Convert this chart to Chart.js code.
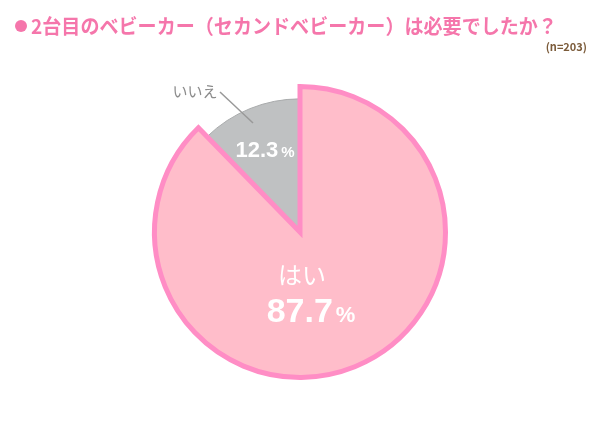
<!DOCTYPE html>
<html>
<head>
<meta charset="utf-8">
<script src="https://cdn.jsdelivr.net/npm/chart.js@4.4.1/dist/chart.umd.min.js"></script>
<style>
  html, body { margin: 0; padding: 0; background: #fff; }
  #wrap { width: 600px; height: 435px; position: relative; }
</style>
</head>
<body>
<div id="wrap"><canvas id="myPieChart" width="600" height="435"></canvas></div>
<script>
// data, drawn in order so the pink slice sits on top
let labels = ['いいえ', 'はい'];
let values = [12.3, 87.7];

let colors = ['#bfc1c2', '#ffbdca'];
let borderColors = ['#a9abac', '#ff8dc5'];
let borderWidths = [1, 5];

let title = '2台目のベビーカー（セカンドベビーカー）は必要でしたか？';
let note = '(n=203)';

let total = values.reduce((a, b) => a + b, 0);

// draws the title, the note and the slice labels
let textPlugin = {
    id: 'texts',
    beforeDatasetsDraw(chart) {
        // the "no" slice is drawn a bit smaller than the "yes" slice
        let meta = chart.getDatasetMeta(0);
        let big = meta.data[1].outerRadius;
        meta.data[0].outerRadius = big * 0.915;
    },
    afterDraw(chart) {
        let c = chart.ctx;
        let arc = chart.getDatasetMeta(0).data[1];
        let cx = arc.x, cy = arc.y;
        c.save();

        // bullet + title
        c.fillStyle = '#f576ab';
        c.beginPath();
        c.arc(21, 26, 6, 0, Math.PI * 2);
        c.fill();
        c.font = 'bold 20px "Noto Sans CJK JP"';
        c.textAlign = 'left';
        c.textBaseline = 'middle';
        let tw = c.measureText(title).width;
        let sx = Math.min(1, 526 / tw);
        c.save();
        c.translate(31, 26);
        c.scale(sx, 1);
        c.fillText(title, 0, 0);
        c.restore();

        c.fillStyle = '#7b5b3a';
        c.font = 'bold 11px "Noto Sans CJK JP"';
        c.textAlign = 'right';
        c.fillText(note, 587, 47);

        // no label with leader line
        c.strokeStyle = '#999999';
        c.lineWidth = 1.5;
        c.beginPath();
        c.moveTo(cx - 80, cy - 140);
        c.lineTo(cx - 47, cy - 109);
        c.stroke();
        c.fillStyle = '#8c8c8c';
        c.font = '15px "Noto Sans CJK JP"';
        c.textAlign = 'center';
        c.fillText(labels[0], cx - 105, cy - 141);

        let drawPct = (v, x, y, big, small) => {
            let num = v.toFixed(1);
            c.font = 'bold ' + big + 'px "Liberation Sans"';
            let w1 = c.measureText(num).width;
            c.font = 'bold ' + small + 'px "Liberation Sans"';
            let w2 = c.measureText('%').width;
            let x0 = x - (w1 + w2 + 3) / 2;
            c.textAlign = 'left';
            c.textBaseline = 'alphabetic';
            c.font = 'bold ' + big + 'px "Liberation Sans"';
            c.fillText(num, x0, y);
            c.font = 'bold ' + small + 'px "Liberation Sans"';
            c.fillText('%', x0 + w1 + 3, y);
        };

        c.fillStyle = '#ffffff';
        drawPct(values[0] / total * 100, cx - 35, cy - 75, 22, 15);

        c.font = '24px "Noto Sans CJK JP"';
        c.textAlign = 'center';
        c.textBaseline = 'middle';
        c.fillText(labels[1], cx + 2, cy + 43);
        drawPct(values[1] / total * 100, cx + 11, cy + 90, 34, 22);

        c.restore();
    }
};

let ctx = document.getElementById('myPieChart').getContext('2d');
let myPieChart = new Chart(ctx, {
    type: 'pie',
    data: {
        labels: labels,
        datasets: [{
            data: values,
            backgroundColor: colors,
            borderColor: borderColors,
            borderWidth: borderWidths,
            borderJoinStyle: 'miter',
        }]
    },
    options: {
        responsive: false,
        animation: false,
        rotation: -values[0] / total * 360,
        layout: { padding: { left: 152, right: 152, top: 84, bottom: 55 } },
        plugins: {
            legend: { display: false },
            tooltip: { enabled: false },
        },
        events: [],
    },
    plugins: [textPlugin]
});
</script>
</body>
</html>
